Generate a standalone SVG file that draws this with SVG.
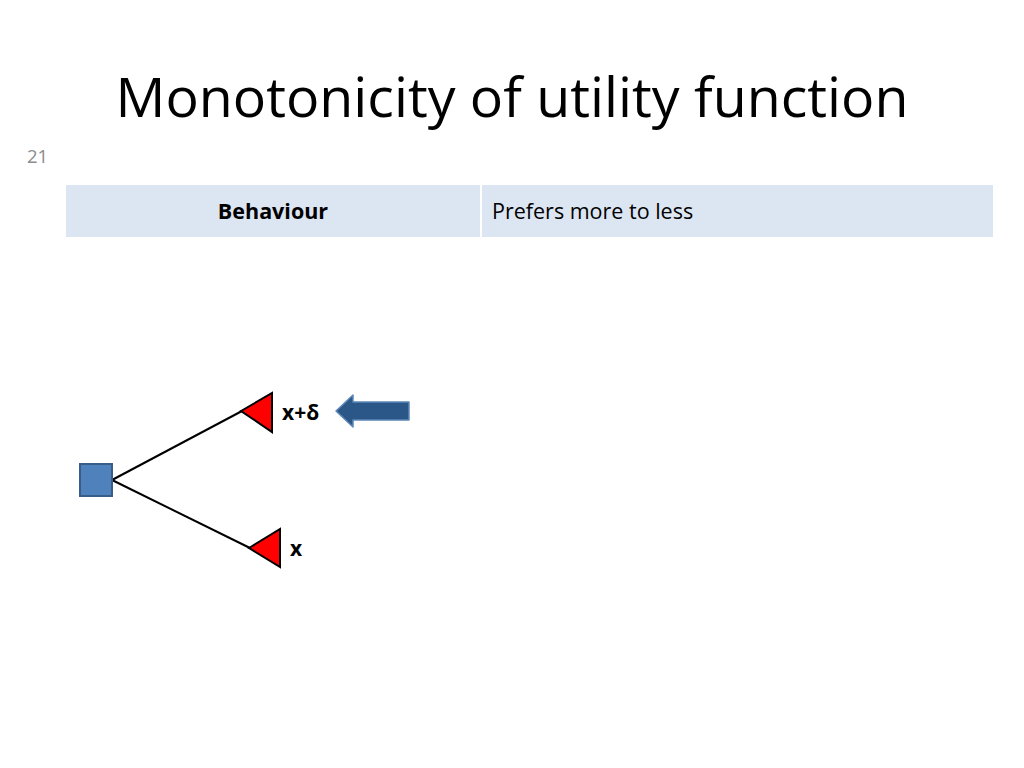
<svg xmlns="http://www.w3.org/2000/svg" width="1024" height="768" viewBox="0 0 1024 768">
<style>
.t{font-family:"Open Sans","Liberation Sans",sans-serif;}
.lbl{font-family:"Open Sans","Liberation Sans",sans-serif;font-size:21.5px;fill:#000;}
.b{font-weight:bold;}
.tri{fill:#FF0000;stroke:#000;stroke-width:2;stroke-linejoin:miter;}
.edge{stroke:#000;stroke-width:2;fill:none;}
</style>
<rect width="1024" height="768" fill="#fff"/>
<text class="t" x="512" y="117" font-size="54" text-anchor="middle" textLength="793" lengthAdjust="spacingAndGlyphs">Monotonicity of utility function</text>
<text class="lbl" x="27" y="163" style="font-size:18.5px;fill:#8C8C8C">21</text>
<g id="table">
<rect x="66" y="185" width="414" height="52" fill="#DCE6F2"/>
<rect x="482" y="185" width="511" height="52" fill="#DCE6F2"/>
<text class="lbl b" x="273" y="219" text-anchor="middle">Behaviour</text>
<text class="lbl" x="492" y="219">Prefers more to less</text>
</g>
<g id="connectors">
<line class="edge" x1="112" y1="480" x2="242" y2="411"/>
<line class="edge" x1="112" y1="480" x2="250" y2="548"/>
</g>
<g id="decision">
<rect x="80" y="464" width="32" height="32" fill="#4F81BD" stroke="#385D8A" stroke-width="2"/>
</g>
<g id="outcome-top">
<polygon class="tri" points="241,411 272,393 272,432"/>
<text class="lbl b" x="282" y="420" style="font-size:21px">x+δ</text>
</g>
<g id="outcome-bottom">
<polygon class="tri" points="249,548 280,529 280,567"/>
<text class="lbl b" x="290" y="556" style="font-size:21px">x</text>
</g>
<g id="pointer">
<polygon points="336,411 353,395 353,402 409,402 409,420 353,420 353,427" fill="#2A5788" stroke="#5C87B8" stroke-width="1.5" stroke-linejoin="round"/>
</g>
</svg>
